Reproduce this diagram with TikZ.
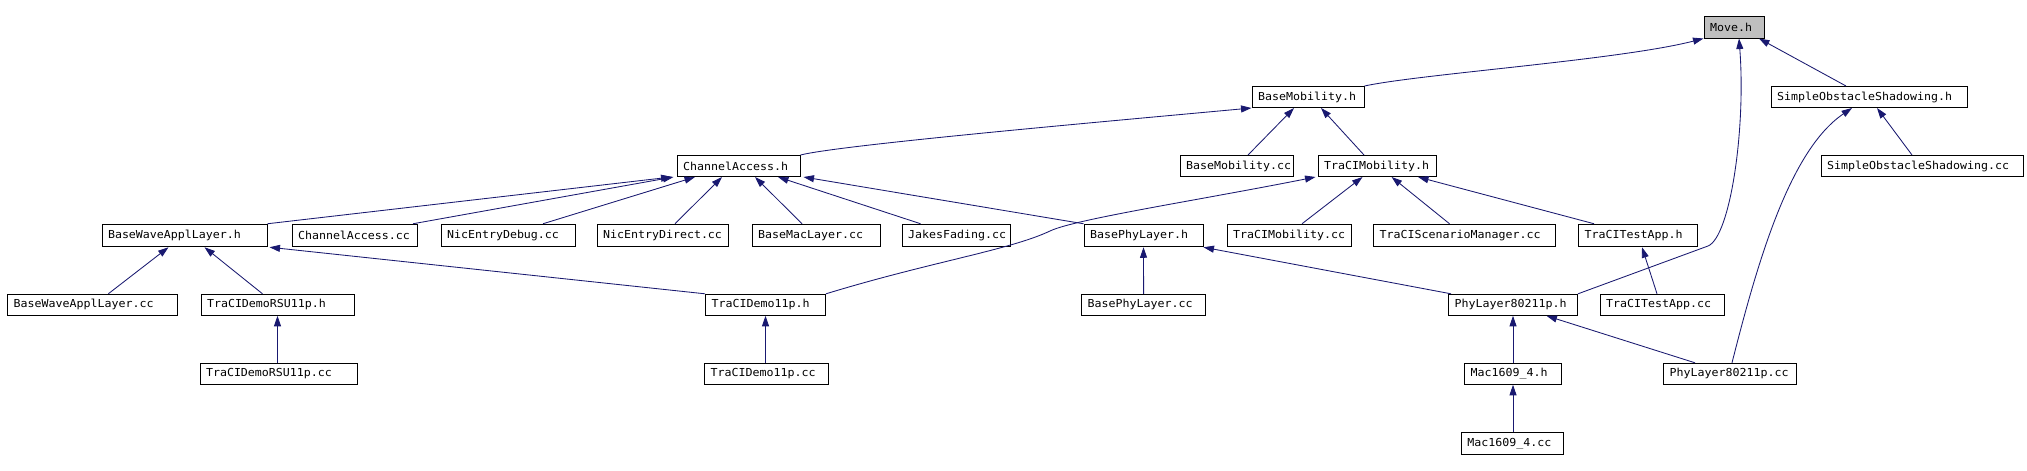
\documentclass[tikz,border=0pt]{standalone}
\usepackage{fontspec}
\newfontfamily\doxfont[FakeStretch=1.057]{DejaVu Sans Mono}
\usetikzlibrary{arrows.meta}
\definecolor{dblue}{HTML}{191970}
\definecolor{mgray}{HTML}{BFBFBF}
\begin{document}
\begin{tikzpicture}[x=1pt,y=-1pt,
  box/.style={draw=black, line width=1pt, fill=white, inner xsep=6pt, inner ysep=0pt,
    align=left, font=\doxfont\fontsize{11}{12}\selectfont, anchor=center},
  r0/.style={minimum height=22pt},
  r1/.style={minimum height=21pt},
  r3/.style={minimum height=22.5pt},
  dep/.style={draw=dblue, line width=0.85pt, -{Triangle[length=10.5pt,width=7pt]}}]
\fill[white] (0,0) rectangle (2027,471);
\useasboundingbox (0,0) rectangle (2027,471);
% row 0
\node[box,r0,fill=mgray,text width=48pt] (move) at (1734,27) {Move.h};
% row 1
\node[box,r1,text width=100pt] (bmh) at (1308,97) {BaseMobility.h};
\node[box,r1,text width=184pt] (sosh) at (1869,97) {SimpleObstacleShadowing.h};
% row 2
\node[box,r1,text width=111pt] (cah) at (738.5,166) {ChannelAccess.h};
\node[box,r1,text width=101pt] (bmcc) at (1236.5,166) {BaseMobility.cc};
\node[box,r1,text width=106pt] (tmh) at (1377,166) {TraCIMobility.h};
\node[box,r1,text width=190pt] (soscc) at (1922,166) {SimpleObstacleShadowing.cc};
% row 3
\node[box,r3,text width=153pt] (bwalh) at (184.5,235.5) {BaseWaveApplLayer.h};
\node[box,r3,text width=113pt] (cacc) at (354.5,235.5) {ChannelAccess.cc};
\node[box,r3,text width=122pt] (nedbg) at (508,235.5) {NicEntryDebug.cc};
\node[box,r3,text width=119pt] (nedir) at (662.5,235.5) {NicEntryDirect.cc};
\node[box,r3,text width=116pt] (bmaccc) at (816,235.5) {BaseMacLayer.cc};
\node[box,r3,text width=96pt] (jf) at (956,235.5) {JakesFading.cc};
\node[box,r3,text width=107pt] (bplh) at (1143.5,235.5) {BasePhyLayer.h};
\node[box,r3,text width=112pt] (tmcc) at (1289,235.5) {TraCIMobility.cc};
\node[box,r3,text width=170pt] (tsmcc) at (1464.5,235.5) {TraCIScenarioManager.cc};
\node[box,r3,text width=107pt] (ttah) at (1638,235.5) {TraCITestApp.h};
% row 4
\node[box,r1,text width=157.4pt] (bwalcc) at (92.3,304.8) {BaseWaveApplLayer.cc};
\node[box,r1,text width=141pt] (trsuh) at (277.5,304.8) {TraCIDemoRSU11p.h};
\node[box,r1,text width=108pt] (td11h) at (765.5,304.8) {TraCIDemo11p.h};
\node[box,r1,text width=112pt] (bplcc) at (1143.6,304.8) {BasePhyLayer.cc};
\node[box,r1,text width=117pt] (plh) at (1513,304.8) {PhyLayer80211p.h};
\node[box,r1,text width=112pt] (ttacc) at (1662,304.8) {TraCITestApp.cc};
% row 5
\node[box,r1,text width=145pt] (trsucc) at (278.5,373.8) {TraCIDemoRSU11p.cc};
\node[box,r1,text width=112pt] (td11cc) at (766.6,373.8) {TraCIDemo11p.cc};
\node[box,r1,text width=85pt] (m4h) at (1513,373.8) {Mac1609\_4.h};
\node[box,r1,text width=121pt] (plcc) at (1730,373.8) {PhyLayer80211p.cc};
% row 6
\node[box,r0,text width=90pt] (m4cc) at (1512.4,443.3) {Mac1609\_4.cc};
% edges to Move.h
\draw[dep] (bmh.north east) .. controls (1420,74) and (1620,60) .. (move.south west);
\draw[dep] ([xshift=-23pt]sosh.north) -- ([xshift=25pt]move.south);
\draw[dep] (plh.north east) -- (1708,246) .. controls (1730,237) and (1746,130) .. ([xshift=5pt]move.south);
% edges to BaseMobility.h
\draw[dep] (cah.north east) .. controls (840,145) and (1100,122) .. (bmh.south west);
\draw[dep] ([xshift=11.5pt]bmcc.north) -- ([xshift=-14pt]bmh.south);
\draw[dep] ([xshift=-13pt]tmh.north) -- ([xshift=13pt]bmh.south);
% edges to SimpleObstacleShadowing.h
\draw[dep] ([xshift=-10pt]soscc.north) -- ([xshift=8pt]sosh.south);
\draw[dep] ([xshift=2pt]plcc.north) .. controls (1758,260) and (1790,150) .. ([xshift=-17pt]sosh.south);
% edges to ChannelAccess.h
\draw[dep] (bwalh.north east) -- ([xshift=-67pt]cah.south);
\draw[dep] ([xshift=58.5pt]cacc.north) -- ([xshift=-65pt]cah.south);
\draw[dep] ([xshift=35pt]nedbg.north) -- ([xshift=-43.5pt]cah.south);
\draw[dep] ([xshift=12.5pt]nedir.north) -- ([xshift=-16.5pt]cah.south);
\draw[dep] ([xshift=-14pt]bmaccc.north) -- ([xshift=16.5pt]cah.south);
\draw[dep] ([xshift=-35.4pt]jf.north) -- ([xshift=39.5pt]cah.south);
\draw[dep] (bplh.north west) -- ([xshift=3pt]cah.south east);
% edges to TraCIMobility.h
\draw[dep] (td11h.north east) .. controls (930,262) and (1010,250) .. (1050,231)
  .. controls (1075,219) and (1200,200) .. ([xshift=-2pt]tmh.south west);
\draw[dep] ([xshift=13pt]tmcc.north) -- ([xshift=-14.5pt]tmh.south);
\draw[dep] ([xshift=-15pt]tsmcc.north) -- ([xshift=14.6pt]tmh.south);
\draw[dep] ([xshift=-44pt]ttah.north) -- ([xshift=41pt]tmh.south);
% edges to BaseWaveApplLayer.h
\draw[dep] ([xshift=16pt]bwalcc.north) -- ([xshift=-16pt]bwalh.south);
\draw[dep] ([xshift=-15pt]trsuh.north) -- ([xshift=20pt]bwalh.south);
\draw[dep] (td11h.north west) -- ([xshift=2pt]bwalh.south east);
% edges to BasePhyLayer.h
\draw[dep] (bplcc.north) -- (bplh.south);
\draw[dep] ([xshift=3pt]plh.north west) -- (bplh.south east);
% edge to TraCITestApp.h
\draw[dep] ([xshift=-5pt]ttacc.north) -- ([xshift=4pt]ttah.south);
% vertical edges
\draw[dep] (trsuh.south |- trsucc.north) -- (trsuh.south);
\draw[dep] (td11h.south |- td11cc.north) -- (td11h.south);
% edges to PhyLayer80211p.h
\draw[dep] (m4h.north) -- (plh.south);
\draw[dep] ([xshift=-35pt]plcc.north) -- ([xshift=33.5pt]plh.south);
% edge to Mac1609_4.h
\draw[dep] (m4h.south |- m4cc.north) -- (m4h.south);
\end{tikzpicture}
\end{document}
